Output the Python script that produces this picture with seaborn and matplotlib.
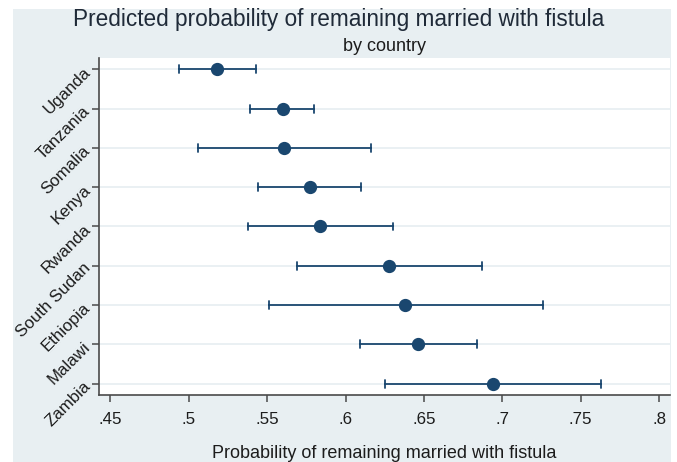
import matplotlib
matplotlib.use("Agg")
import matplotlib.pyplot as plt
from matplotlib.patches import Rectangle
import numpy as np
import pandas as pd
import seaborn as sns

# Predicted probability and 95% confidence limits, by country
countries = ["Uganda", "Tanzania", "Somalia", "Kenya", "Rwanda",
             "South Sudan", "Ethiopia", "Malawi", "Zambia"]
estimate = [0.518, 0.560, 0.561, 0.577, 0.584, 0.628, 0.638, 0.646, 0.694]
lower = [0.494, 0.539, 0.506, 0.544, 0.538, 0.569, 0.551, 0.609, 0.625]
upper = [0.543, 0.580, 0.616, 0.610, 0.630, 0.687, 0.726, 0.684, 0.763]
xticks = [0.45, 0.50, 0.55, 0.60, 0.65, 0.70, 0.75, 0.80]
xtick_labels = [".45", ".5", ".55", ".6", ".65", ".7", ".75", ".8"]

# Long table: each country holds its lower limit, estimate and upper limit,
# so the median is the point estimate and the full range is the interval.
df = pd.DataFrame({
    "country": np.repeat(countries, 3),
    "value": np.ravel(np.column_stack([lower, estimate, upper])),
})

navy = "#1A476F"
region_bg = "#E8EFF2"
grid_col = "#E6EEF1"
axis_col = "#4A4A4A"
text_col = "#1C1C1C"

sns.set_theme(style="white")
plt.rcParams["font.family"] = ["Liberation Sans", "DejaVu Sans"]

W, H = 677, 462
fig = plt.figure(figsize=(W / 100, H / 100), dpi=100, facecolor="white")

# Light graph-region panel behind the plot
fig.patches.append(Rectangle((13 / W, 0), (671 - 13) / W, 1 - 9 / H,
                             transform=fig.transFigure, facecolor=region_bg,
                             edgecolor="none", zorder=-10))

ax = fig.add_axes([99 / W, 1 - 395 / H, (670 - 99) / W, (395 - 58) / H])
ax.set_zorder(1)
ax.set_facecolor("white")

sns.pointplot(data=df, x="value", y="country", order=countries,
              estimator="median", errorbar=("pi", 100),
              color=navy, linestyle="none", marker="o", markersize=7.5,
              capsize=0.2, err_kws={"linewidth": 1.3, "color": navy},
              ax=ax)

ax.set_xlim(0.4427, 0.807)
ax.set_ylim(len(countries) - 1 + 0.29, -0.29)

ax.set_xticks(xticks)
ax.set_xticklabels(xtick_labels)
ax.set_yticks(range(len(countries)))
ax.set_yticklabels(countries, rotation=45, ha="right", va="center",
                   rotation_mode="anchor")

for y in range(len(countries)):
    ax.axhline(y, color=grid_col, linewidth=1.2, zorder=0)

for side in ["top", "right"]:
    ax.spines[side].set_visible(False)
for side in ["left", "bottom"]:
    ax.spines[side].set_visible(True)
    ax.spines[side].set_color(axis_col)
    ax.spines[side].set_linewidth(1.2)

ax.tick_params(axis="both", which="major", direction="out", length=5,
               width=1.1, color=axis_col, labelsize=12.2, labelcolor=text_col,
               bottom=True, left=True, pad=3)
ax.tick_params(axis="x", pad=7)

ax.set_xlabel("Probability of remaining married with fistula",
              fontsize=13, color=text_col, labelpad=13)
ax.set_ylabel("")

fig.text(0.5, 1 - 26 / H, "Predicted probability of remaining married with fistula",
         ha="center", va="baseline", fontsize=16.3, color="#1F2A38")
fig.text((99 + 670) / 2 / W, 1 - 51 / H, "by country",
         ha="center", va="baseline", fontsize=13, color=text_col)

fig.savefig("out.png", dpi=100, facecolor=fig.get_facecolor())
